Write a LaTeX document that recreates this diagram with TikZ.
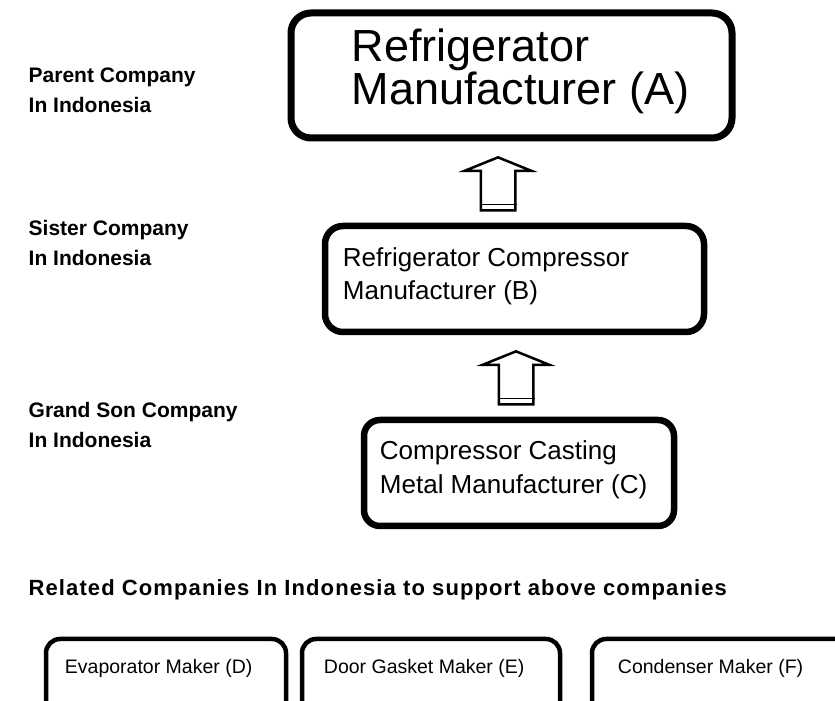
\documentclass[tikz,border=0pt]{standalone}
\usepackage{fontspec}
\setmainfont{Liberation Sans}
\usepackage{tikz}
\usetikzlibrary{arrows.meta,positioning,shapes.arrows}
\tikzstyle{cobox}=[rectangle,rounded corners=18pt,draw=black,line width=6.5pt,inner sep=0pt]
\tikzstyle{cotext}=[inner sep=0pt,align=left,anchor=west]
\tikzstyle{tier}=[inner sep=0pt,align=left,anchor=west,font=\fontsize{21}{30}\selectfont\bfseries]
\tikzstyle{uparrow}=[single arrow,draw=black,line width=2.5pt,rotate=90,anchor=tip,
                  minimum height=53pt,minimum width=65pt,inner xsep=0pt,inner ysep=16pt,
                  single arrow head extend=16pt,single arrow tip angle=136]
\tikzstyle{maker}=[rectangle,rounded corners=14pt,draw=black,line width=4.5pt,inner sep=0pt,minimum height=78pt]
\tikzstyle{makertext}=[inner sep=0pt,font=\fontsize{19.5}{22}\selectfont]

\begin{document}
\begin{tikzpicture}[x=1pt,y=1pt]
  \useasboundingbox (0,0) rectangle (835,701);

  \node[tier] (parent)   at (28.5,611) {Parent Company\\In Indonesia};
  \node[tier] (sister)   at (28.5,458) {Sister Company\\In Indonesia};
  \node[tier] (grandson) at (28.5,276) {Grand Son Company\\In Indonesia};

  \node[cobox,line width=7pt,rounded corners=20pt,minimum width=441pt,minimum height=125pt] (A) at (511.5,625.5) {};
  \node[cotext,font=\fontsize{45}{43}\selectfont,right=64pt of A.west,yshift=4.5pt] (Atext) {Refrigerator\\Manufacturer (A)};

  \node[cobox,minimum width=379pt,minimum height=106pt] (B) at (514.5,422) {};
  \node[cotext,font=\fontsize{26}{33}\selectfont,right=21pt of B.west,yshift=3pt] (Btext) {Refrigerator Compressor\\Manufacturer (B)};

  \node[cobox,rounded corners=16pt,minimum width=310pt,minimum height=106pt] (C) at (519,228) {};
  \node[cotext,font=\fontsize{26}{34}\selectfont,right=19pt of C.west,yshift=3pt] (Ctext) {Compressor Casting\\Metal Manufacturer (C)};

  % hollow arrows between the tiers
  \node[uparrow] (BA) at (498,545) {};
  \draw[line width=1.5pt] ([yshift=7pt]BA.before tail) -- ([yshift=7pt]BA.after tail);
  \node[uparrow] (CB) at (516,351) {};
  \draw[line width=1.5pt] ([yshift=7pt]CB.before tail) -- ([yshift=7pt]CB.after tail);

  \node[tier,font=\fontsize{22}{30}\selectfont\bfseries\addfontfeatures{LetterSpace=5}] (related) at (28.5,111) {Related Companies In Indonesia to support above companies};

  \node[maker,minimum width=240pt] (D) at (166,23) {};
  \node[maker,minimum width=258pt] (E) at (431,23) {};
  \node[maker,minimum width=270pt] (F) at (727,23) {};
  \node[makertext,below right=22pt and 21pt of D.north west] (Dtext) {Evaporator Maker (D)};
  \node[makertext,below right=22pt and 24pt of E.north west] (Etext) {Door Gasket Maker (E)};
  \node[makertext,below right=22pt and 28pt of F.north west] (Ftext) {Condenser Maker (F)};
\end{tikzpicture}
\end{document}
